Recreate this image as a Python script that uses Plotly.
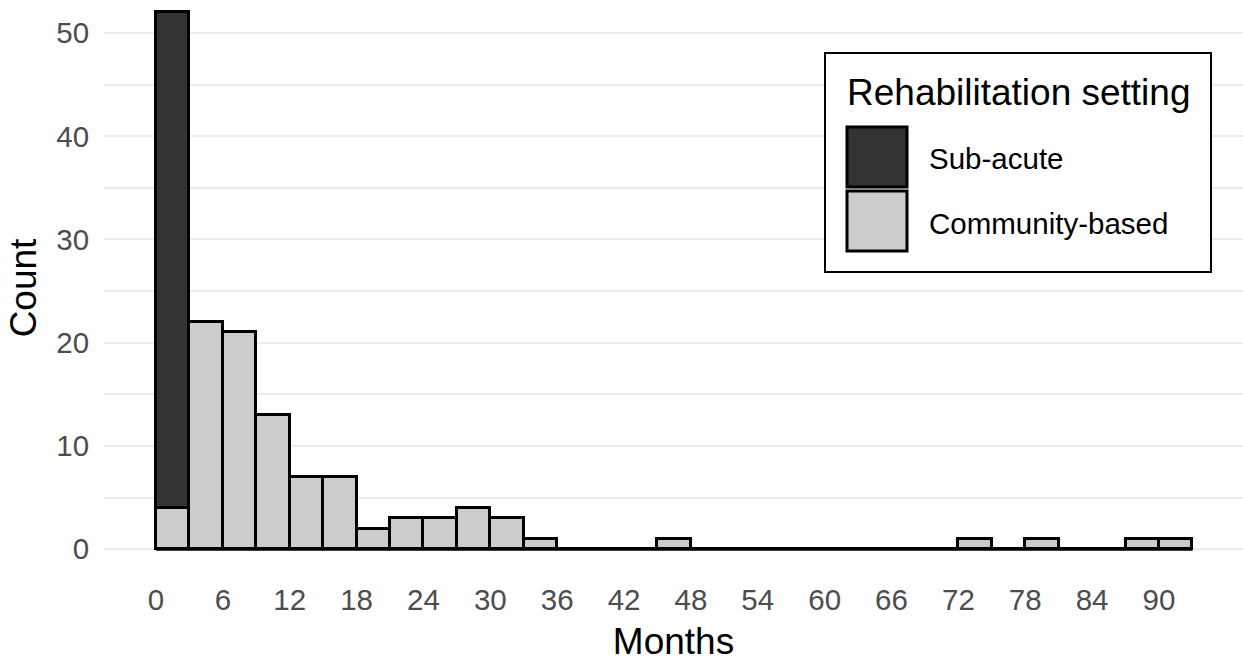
import plotly.graph_objects as go

# ---- data (3-month bins) ----
bin_width = 3
bin_edges = [i * bin_width for i in range(32)]  # 0 .. 93
community_counts = [4, 22, 21, 13, 7, 7, 2, 3, 3, 4, 3, 1, 0, 0, 0, 1,
                    0, 0, 0, 0, 0, 0, 0, 0, 1, 0, 1, 0, 0, 1, 1]
subacute_counts = [48] + [0] * 30
x_ticks = [0, 6, 12, 18, 24, 30, 36, 42, 48, 54, 60, 66, 72, 78, 84, 90]
y_ticks = [0, 10, 20, 30, 40, 50]
series_names = ["Sub-acute", "Community-based"]
series_colors = ["#333333", "#CCCCCC"]

centers = [e + bin_width / 2 for e in bin_edges[:-1]]

W, H = 1243, 662
ML, MR, MT, MB = 104, 0, 0, 86
PW, PH = W - ML - MR, H - MT - MB

FONT = "Liberation Sans, Arial, sans-serif"
TICK_SIZE = 29.5
TITLE_SIZE = 37
EDGE_W = 3

fig = go.Figure()

# baseline drawn by zero-height bins in the original
fig.add_trace(go.Scatter(
    x=[bin_edges[0], bin_edges[-1]], y=[0, 0], mode="lines",
    line=dict(color="black", width=EDGE_W), showlegend=False, hoverinfo="skip"))

fig.add_trace(go.Bar(
    x=centers, y=community_counts, width=bin_width, name=series_names[1],
    marker=dict(color=series_colors[1], line=dict(color="black", width=EDGE_W)),
    showlegend=False))
fig.add_trace(go.Bar(
    x=centers, y=subacute_counts, width=bin_width, name=series_names[0],
    marker=dict(color=series_colors[0], line=dict(color="black", width=EDGE_W)),
    showlegend=False))


def px_x(p):
    return (p - ML) / PW


def px_y(p):
    return (H - MB - p) / PH


shapes = []
annotations = []
# legend box
shapes.append(dict(type="rect", xref="paper", yref="paper",
                   x0=px_x(825), x1=px_x(1211), y0=px_y(272), y1=px_y(53),
                   line=dict(color="black", width=2), fillcolor="white", layer="above"))
annotations.append(dict(text="Rehabilitation setting", xref="paper", yref="paper",
                        x=px_x(845), y=px_y(92), xanchor="left", yanchor="middle",
                        showarrow=False, font=dict(family=FONT, size=TITLE_SIZE, color="black")))
key_tops = [127, 191]
label_centers = [158, 223]
for name, col, kt, lc in zip(series_names, series_colors, key_tops, label_centers):
    shapes.append(dict(type="rect", xref="paper", yref="paper",
                       x0=px_x(847), x1=px_x(907), y0=px_y(kt + 60), y1=px_y(kt),
                       line=dict(color="black", width=3), fillcolor=col, layer="above"))
    annotations.append(dict(text=name, xref="paper", yref="paper",
                            x=px_x(927), y=px_y(lc), xanchor="left", yanchor="middle",
                            showarrow=False, font=dict(family=FONT, size=TICK_SIZE, color="black")))

fig.update_layout(
    width=W, height=H,
    margin=dict(l=ML, r=MR, t=MT, b=MB, autoexpand=False),
    paper_bgcolor="white", plot_bgcolor="white",
    barmode="stack", bargap=0,
    font=dict(family=FONT),
    shapes=shapes, annotations=annotations,
    showlegend=False,
    xaxis=dict(
        range=[-4.666, 97.54], tickmode="array", tickvals=x_ticks,
        ticktext=[str(v) for v in x_ticks],
        showgrid=False, zeroline=False, showline=False,
        ticks="", ticklabelstandoff=3,
        tickfont=dict(family=FONT, size=TICK_SIZE, color="#4D4D4D"),
        title=dict(text="Months", font=dict(family=FONT, size=TITLE_SIZE, color="black"), standoff=20),
    ),
    yaxis=dict(
        range=[-2.6, 53.2], tickmode="array", tickvals=y_ticks,
        ticktext=[str(v) for v in y_ticks],
        showgrid=True, gridcolor="#EBEBEB", gridwidth=2.4,
        minor=dict(tickvals=[5, 15, 25, 35, 45], showgrid=True, gridcolor="#EBEBEB", gridwidth=1.6),
        zeroline=False, showline=False,
        ticks="outside", ticklen=8, tickcolor="rgba(0,0,0,0)",
        tickfont=dict(family=FONT, size=TICK_SIZE, color="#4D4D4D"),
        title=dict(text="Count", font=dict(family=FONT, size=TITLE_SIZE, color="black"), standoff=8),
    ),
)

fig.write_html("out.html", config={"displayModeBar": False},
               post_script="document.body.style.margin='0px';")
